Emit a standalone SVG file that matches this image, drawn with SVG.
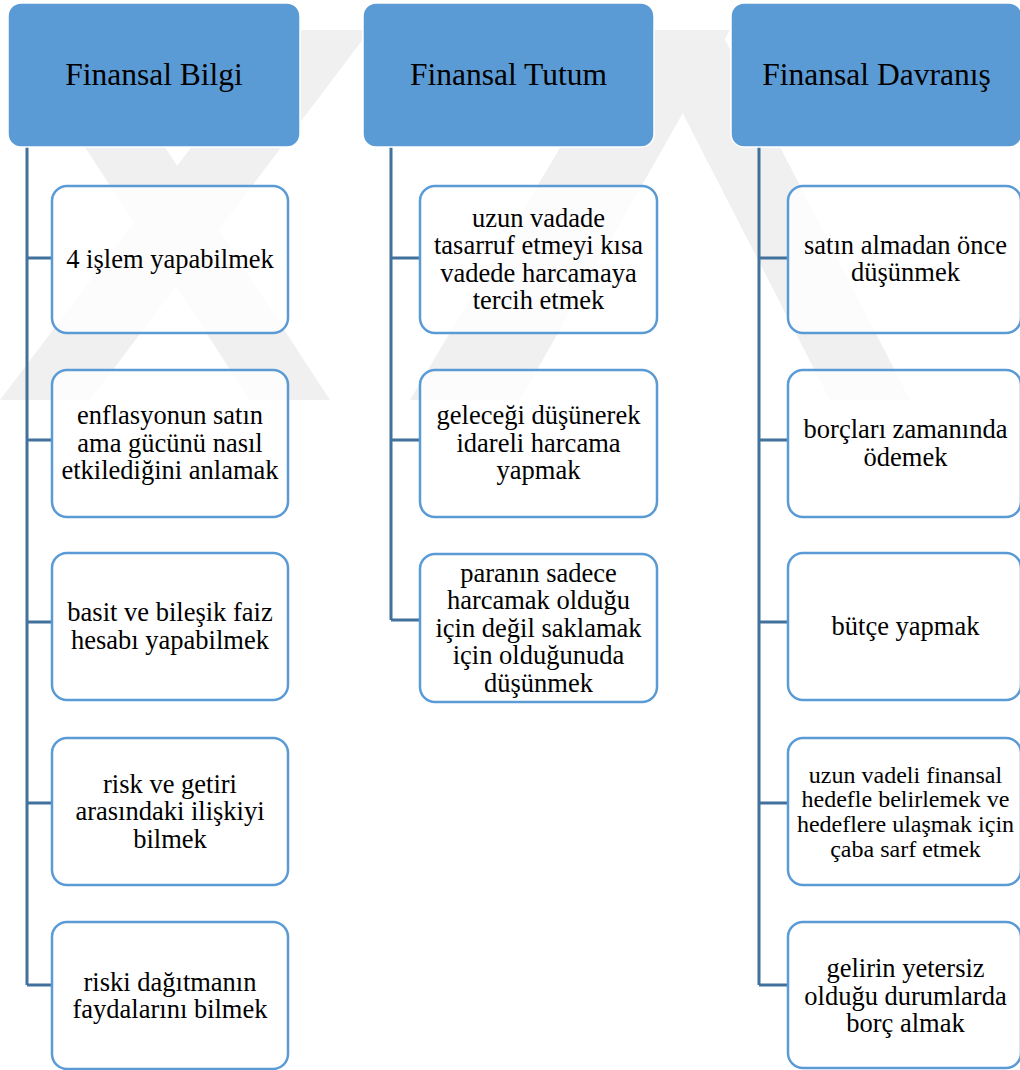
<svg xmlns="http://www.w3.org/2000/svg" width="1020" height="1070" viewBox="0 0 1020 1070">
<style>
.hdr{fill:#5B9BD5;stroke:#ffffff;stroke-width:1.5}
.box{fill:#ffffff;fill-opacity:0.8;stroke:#5B9BD5;stroke-width:2.5}
.ht{font-family:"Liberation Serif","Times New Roman",serif;font-size:31.5px;fill:#000;text-anchor:middle}
.t{font-family:"Liberation Serif","Times New Roman",serif;font-size:26.5px;fill:#000;text-anchor:middle}
.ts{font-family:"Liberation Serif","Times New Roman",serif;font-size:24px;fill:#000;text-anchor:middle}
.con{fill:none;stroke:#41719C;stroke-width:3}
.wm{fill:#f0f0f0}
</style>
<rect x="0" y="0" width="1020" height="1070" fill="#ffffff"/>
<g id="watermark">
<polygon class="wm" points="15,40 95,40 330,400 250,400"/>
<polygon class="wm" points="0,400 90,400 370,30 280,30"/>
<polygon class="wm" points="410,400 520,400 730,30 630,30"/>
<polygon class="wm" points="640,30 720,30 910,400 830,400"/>
</g>
<g id="connectors">
<path class="con" d="M27,147 V985 M27,258 H52 M27,440 H52 M27,622 H52 M27,803 H52 M27,985 H52"/>
<path class="con" d="M391,147 V620 M391,258 H420 M391,440 H420 M391,620 H420"/>
<path class="con" d="M759,147 V985 M759,258 H788 M759,440 H788 M759,622 H788 M759,803 H788 M759,985 H788"/>
</g>
<g id="h1"><rect class="hdr" x="8" y="3" width="292" height="144" rx="13"/><text class="ht" x="154" y="85">Finansal Bilgi</text></g>
<g id="h2"><rect class="hdr" x="363" y="3" width="291" height="144" rx="13"/><text class="ht" x="508.5" y="85">Finansal Tutum</text></g>
<g id="h3"><rect class="hdr" x="731" y="3" width="291" height="144" rx="13"/><text class="ht" x="876.5" y="85">Finansal Davranış</text></g>

<g id="b11"><rect class="box" x="52" y="186" width="236" height="147" rx="15"/><text class="t" x="170" y="268">4 işlem yapabilmek</text></g>
<g id="b12"><rect class="box" x="52" y="370" width="236" height="147" rx="15"/><text class="t" x="170" y="424">enflasyonun satın</text><text class="t" x="170" y="451.5">ama gücünü nasıl</text><text class="t" x="170" y="479">etkilediğini anlamak</text></g>
<g id="b13"><rect class="box" x="52" y="553" width="236" height="147" rx="15"/><text class="t" x="170" y="621">basit ve bileşik faiz</text><text class="t" x="170" y="648.5">hesabı yapabilmek</text></g>
<g id="b14"><rect class="box" x="52" y="738" width="236" height="147" rx="15"/><text class="t" x="170" y="792.5">risk ve getiri</text><text class="t" x="170" y="820">arasındaki ilişkiyi</text><text class="t" x="170" y="847.5">bilmek</text></g>
<g id="b15"><rect class="box" x="52" y="922" width="236" height="147" rx="15"/><text class="t" x="170" y="990.5">riski dağıtmanın</text><text class="t" x="170" y="1018">faydalarını bilmek</text></g>

<g id="b21"><rect class="box" x="420" y="186" width="237" height="147" rx="15"/><text class="t" x="538.5" y="226.5">uzun vadade</text><text class="t" x="538.5" y="254">tasarruf etmeyi kısa</text><text class="t" x="538.5" y="281.5">vadede harcamaya</text><text class="t" x="538.5" y="309">tercih etmek</text></g>
<g id="b22"><rect class="box" x="420" y="370" width="237" height="147" rx="15"/><text class="t" x="538.5" y="424">geleceği düşünerek</text><text class="t" x="538.5" y="451.5">idareli harcama</text><text class="t" x="538.5" y="479">yapmak</text></g>
<g id="b23"><rect class="box" x="420" y="554" width="237" height="148" rx="15"/><text class="t" x="538.5" y="581.5">paranın sadece</text><text class="t" x="538.5" y="609">harcamak olduğu</text><text class="t" x="538.5" y="636.5">için değil saklamak</text><text class="t" x="538.5" y="664">için olduğunuda</text><text class="t" x="538.5" y="691.5">düşünmek</text></g>

<g id="b31"><rect class="box" x="788" y="186" width="233" height="147" rx="15"/><text class="t" x="905.5" y="253.5">satın almadan önce</text><text class="t" x="905.5" y="281">düşünmek</text></g>
<g id="b32"><rect class="box" x="788" y="370" width="233" height="147" rx="15"/><text class="t" x="905.5" y="438">borçları zamanında</text><text class="t" x="905.5" y="465.5">ödemek</text></g>
<g id="b33"><rect class="box" x="788" y="553" width="233" height="147" rx="15"/><text class="t" x="905.5" y="635">bütçe yapmak</text></g>
<g id="b34"><rect class="box" x="788" y="738" width="233" height="147" rx="15"/><text class="ts" x="905.5" y="782.5">uzun vadeli finansal</text><text class="ts" x="905.5" y="807">hedefle belirlemek ve</text><text class="ts" x="905.5" y="831.5">hedeflere ulaşmak için</text><text class="ts" x="905.5" y="856.5">çaba sarf etmek</text></g>
<g id="b35"><rect class="box" x="788" y="922" width="233" height="146" rx="15"/><text class="t" x="905.5" y="977">gelirin yetersiz</text><text class="t" x="905.5" y="1004.5">olduğu durumlarda</text><text class="t" x="905.5" y="1032">borç almak</text></g>
</svg>
